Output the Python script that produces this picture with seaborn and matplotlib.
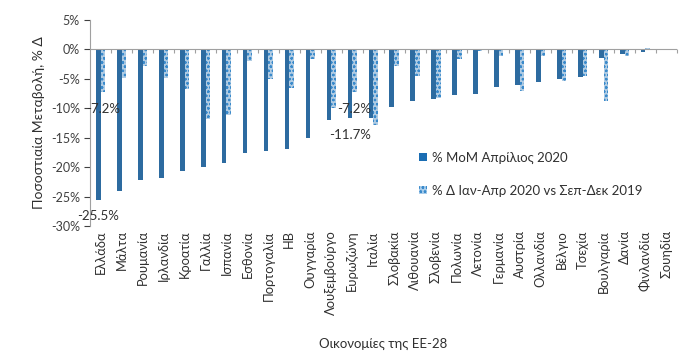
import pandas as pd
import seaborn as sns
import matplotlib.pyplot as plt
from matplotlib.ticker import FuncFormatter
from matplotlib.patches import Patch

# categories and values (%)
countries = ["Ελλάδα", "Μάλτα", "Ρουμανία", "Ιρλανδία", "Κροατία", "Γαλλία", "Ισπανία",
             "Εσθονία", "Πορτογαλία", "ΗΒ", "Ουγγαρία", "Λουξεμβούργο", "Ευρωζώνη", "Ιταλία",
             "Σλοβακία", "Λιθουανία", "Σλοβενία", "Πολωνία", "Λετονία", "Γερμανία", "Αυστρία",
             "Ολλανδία", "Βέλγιο", "Τσεχία", "Βουλγαρία", "Δανία", "Φινλανδία", "Σουηδία"]
mom_apr = [-25.5, -24.1, -22.1, -21.9, -20.6, -19.9, -19.2,
           -17.5, -17.3, -16.9, -15.0, -11.9, -11.7, -11.6,
           -9.8, -8.8, -8.5, -7.7, -7.5, -6.4, -6.0,
           -5.5, -5.1, -4.7, -1.4, -0.7, -0.4, 0.0]
jan_apr_vs = [-7.2, -4.9, -2.8, -4.9, -6.8, -11.8, -11.1,
              -1.9, -5.1, -6.5, -1.6, -10.0, -7.2, -12.8,
              -2.8, -4.5, -8.3, -1.7, -0.3, -1.2, -7.1,
              -1.2, -5.3, -4.5, -8.8, -1.1, 0.3, 0.0]
series_names = ["% MoM Απρίλιος 2020", "% Δ Ιαν-Απρ 2020 vs Σεπ-Δεκ 2019"]

df = pd.DataFrame({
    "country": countries * 2,
    "value": mom_apr + jan_apr_vs,
    "series": [series_names[0]] * len(countries) + [series_names[1]] * len(countries),
})

sns.set_style("white")
plt.rcParams["font.family"] = ["Lato", "DejaVu Sans"]
plt.rcParams["hatch.linewidth"] = 0.6

dark = "#1a6db3"
light = "#a9cdeb"
hatch_col = "#3a8acb"

fig = plt.figure(figsize=(7, 3.63), dpi=100)
ax = fig.add_axes([0.129, 0.377, 0.838, 0.568])

sns.barplot(data=df, x="country", y="value", hue="series", palette=[dark, light],
            width=0.44, ax=ax, legend=False)

# light series: dotted pattern
for p in ax.containers[1]:
    p.set_hatch("oooo")
    p.set_edgecolor(hatch_col)
    p.set_linewidth(0)
for p in ax.containers[0]:
    p.set_linewidth(0)

ax.set_ylim(-30, 5)
ax.set_xlim(-0.5, len(countries) - 0.5)
ax.set_yticks(range(-30, 6, 5))
ax.yaxis.set_major_formatter(FuncFormatter(lambda v, _: f"{int(v)}%"))
ax.tick_params(axis="y", labelsize=9, colors="#404040", length=4, left=True, width=0.8)
ax.tick_params(axis="x", labelsize=9.3, labelrotation=90, length=0, pad=3, colors="#303030")

for s in ["top", "right", "bottom"]:
    ax.spines[s].set_visible(False)
ax.spines["left"].set_color("#a0a0a0")
ax.axhline(0, color="#a0a0a0", lw=0.8)

# boundary ticks on the zero line
zero_frac = (0 - (-30)) / 35
sec = ax.secondary_xaxis(zero_frac)
sec.set_xticks([i + 0.5 for i in range(len(countries))])
sec.tick_params(axis="x", direction="in", length=3, color="#a0a0a0", labelbottom=False, labeltop=False)
sec.spines["bottom"].set_visible(False)
sec.spines["top"].set_visible(False)

ax.set_xlabel("Οικονομίες της ΕΕ-28", fontsize=9.5, color="#303030", labelpad=16)
ax.set_ylabel("Ποσοστιαία Μεταβολή, % Δ", fontsize=10, color="#303030", labelpad=4)

# data labels
gr = countries.index("Ελλάδα")
ez = countries.index("Ευρωζώνη")
labels = [(ax.containers[0][gr], mom_apr[gr]), (ax.containers[1][gr], jan_apr_vs[gr]),
          (ax.containers[0][ez], mom_apr[ez]), (ax.containers[1][ez], jan_apr_vs[ez])]
for bar, val in labels:
    ax.annotate(f"{val:.1f}%", xy=(bar.get_x() + bar.get_width() / 2, bar.get_height()),
                xytext=(0, -12), textcoords="offset points", ha="center", va="center",
                fontsize=9.5, color="#303030")

# legend
handles = [Patch(facecolor=dark, edgecolor=dark, lw=0),
           Patch(facecolor=light, edgecolor=hatch_col, hatch="oooo", lw=0)]
ax.legend(handles, series_names, loc="upper left", bbox_to_anchor=(0.54, 0.42), frameon=False,
          fontsize=9.5, handlelength=0.6, handleheight=0.6, handletextpad=0.4,
          labelspacing=1.6, labelcolor="#303030")

fig.savefig("out.png", dpi=100)
